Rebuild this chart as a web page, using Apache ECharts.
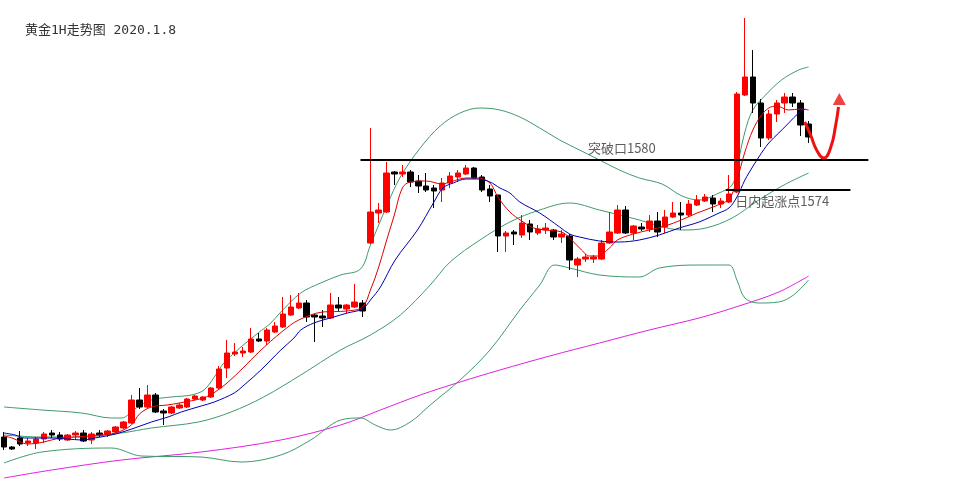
<!DOCTYPE html>
<html>
<head>
<meta charset="utf-8">
<script src="https://cdn.jsdelivr.net/npm/echarts@6/dist/echarts.min.js"></script>
<style>
html,body{margin:0;padding:0;background:#fff;}
#c{width:956px;height:480px;}
</style>
</head>
<body>
<div id="c"></div>
<script>
// Candles: [open, close, low, high]
const candles = [
[1524.6,1522.6,1522.0,1525.6],[1522.6,1522.2,1522.0,1522.8],[1524.4,1523.2,1522.8,1525.8],[1523.4,1523.8,1522.8,1524.4],
[1523.4,1524.2,1522.2,1524.6],[1524.2,1525.2,1523.4,1525.6],[1525.4,1525.0,1524.4,1526.0],[1525.0,1524.2,1523.8,1525.6],
[1524.0,1525.0,1523.8,1525.2],[1525.0,1525.4,1524.0,1525.8],[1525.4,1523.8,1523.6,1526.0],[1524.0,1525.2,1523.2,1525.6],
[1525.4,1525.0,1524.6,1526.0],[1525.2,1525.8,1524.6,1526.0],[1525.6,1526.6,1525.4,1526.8],[1526.4,1527.6,1526.2,1527.8],
[1527.4,1532.0,1527.2,1533.0],[1532.0,1530.6,1530.2,1534.4],[1530.6,1533.0,1530.4,1535.0],[1533.0,1529.6,1529.4,1533.4],
[1529.8,1529.4,1527.0,1530.2],[1529.4,1530.6,1529.2,1530.8],[1530.4,1531.0,1530.2,1531.4],[1530.6,1532.2,1530.4,1532.4],
[1532.2,1532.8,1532.0,1533.0],[1532.0,1532.6,1531.8,1532.8],[1532.6,1534.4,1532.4,1534.6],[1534.4,1538.2,1534.2,1538.8],
[1538.4,1541.4,1536.4,1544.0],[1541.2,1541.6,1540.8,1543.4],[1541.4,1541.8,1540.6,1542.6],[1541.6,1544.2,1541.4,1546.4],
[1544.2,1543.8,1543.6,1545.4],[1543.8,1546.0,1543.0,1546.4],[1545.6,1546.8,1545.4,1547.6],[1546.6,1549.2,1546.4,1552.6],
[1549.0,1550.6,1548.8,1553.0],[1550.4,1551.4,1550.2,1553.4],[1551.4,1548.6,1547.6,1552.0],[1549.0,1548.6,1543.6,1549.2],
[1548.8,1548.4,1546.6,1550.0],[1548.4,1551.0,1548.2,1553.4],[1551.0,1550.4,1549.6,1552.6],[1550.2,1551.0,1549.4,1551.2],
[1550.6,1551.6,1550.4,1555.2],[1551.4,1549.8,1548.6,1552.0],[1563.4,1569.6,1563.2,1586.4],[1569.4,1570.0,1567.4,1571.4],
[1569.6,1577.4,1569.4,1579.6],[1577.6,1577.2,1575.0,1577.8],[1577.2,1577.6,1576.6,1579.0],[1577.6,1575.6,1574.6,1578.0],
[1575.8,1574.8,1573.4,1577.0],[1574.8,1574.0,1573.6,1577.4],[1574.4,1573.8,1570.4,1575.0],[1574.0,1575.4,1571.6,1576.4],
[1575.4,1576.8,1574.4,1577.6],[1576.6,1577.4,1575.6,1578.0],[1577.2,1578.4,1577.0,1579.0],[1578.4,1576.4,1576.2,1578.6],
[1576.6,1574.0,1573.6,1577.0],[1574.2,1572.8,1571.6,1575.0],[1573.0,1564.8,1561.6,1573.0],[1564.8,1565.4,1561.6,1565.8],
[1565.6,1565.2,1563.0,1566.0],[1565.0,1567.4,1564.4,1569.0],[1567.2,1565.6,1564.0,1568.0],[1565.4,1566.2,1565.0,1567.0],
[1566.0,1566.4,1565.2,1567.4],[1566.0,1564.6,1564.0,1566.2],[1564.6,1565.2,1563.4,1566.0],[1564.8,1560.0,1558.0,1565.2],
[1559.0,1560.2,1556.6,1560.6],[1560.2,1560.6,1559.6,1561.2],[1560.2,1560.6,1559.4,1561.0],[1560.2,1563.4,1560.0,1564.0],
[1563.4,1565.6,1563.2,1569.6],[1565.4,1570.0,1565.2,1571.0],[1570.0,1565.4,1565.2,1570.8],[1565.4,1566.8,1564.0,1567.0],
[1566.6,1566.2,1565.8,1567.4],[1566.2,1567.8,1565.6,1569.0],[1567.8,1565.6,1564.6,1569.6],[1566.6,1568.6,1565.4,1570.0],
[1568.6,1569.4,1568.4,1571.6],[1569.4,1569.0,1566.0,1571.6],[1569.0,1571.2,1568.6,1572.0],[1571.0,1572.0,1570.8,1573.0],
[1571.8,1572.6,1571.6,1573.2],[1572.4,1571.2,1569.6,1573.0],[1571.2,1571.8,1570.4,1572.4],[1571.6,1573.2,1571.4,1577.0],
[1573.6,1593.2,1573.4,1593.6],[1593.0,1596.6,1592.8,1608.4],[1596.6,1591.4,1589.4,1602.0],[1591.4,1584.4,1582.6,1592.2],
[1584.4,1589.2,1584.0,1590.0],[1589.2,1591.4,1587.6,1592.0],[1591.4,1592.6,1589.4,1593.4],[1592.6,1591.4,1590.6,1593.4],
[1591.4,1587.0,1584.8,1592.0],[1587.2,1584.6,1583.4,1587.8]
];

// Lines: [bar index, price]
const maFast = [[0,1524.8],[1,1524.4],[3,1523.2],[5,1523.6],[7,1524.4],[9,1524.6],[12,1525.0],[14,1525.4],[16,1527.0],[17,1529.2],[18.5,1530.6],[20.5,1531.0],[22,1531.4],[25,1532.4],[26.5,1533.6],[28,1535.4],[30,1538.4],[32,1541.6],[35,1545.8],[37,1548.0],[40,1549.6],[43,1549.8],[45,1550.6],[46,1554.0],[47,1558.4],[48,1563.8],[49,1569.0],[50,1574.4],[51,1575.6],[53,1575.8],[55,1575.2],[56,1575.6],[58,1576.4],[59.5,1576.4],[61,1575.4],[62,1572.6],[63.5,1569.6],[65,1567.8],[66.5,1566.4],[68,1566.0],[70,1565.6],[71,1564.4],[72.5,1562.0],[73.5,1560.8],[74.5,1560.8],[76,1562.4],[77,1564.0],[79,1565.2],[81,1566.0],[83,1566.8],[85,1568.0],[87,1569.4],[89,1570.6],[91,1572.2],[92,1576.0],[93,1581.6],[94,1586.0],[95,1588.8],[96,1590.4],[97,1590.8],[98.5,1590.0],[100,1590.2],[101,1590.0]];

const maSlow = [[0,1525.4],[1.4,1525.0],[2.6,1524.4],[4,1524.4],[6,1524.4],[8,1524.2],[9.75,1524.0],[11.4,1524.4],[14,1525.2],[16.4,1526.4],[18.5,1527.6],[20.6,1528.6],[22.25,1529.6],[24.75,1530.8],[26.4,1531.6],[28.9,1533.4],[30,1534.8],[32.25,1538.0],[34.75,1542.0],[36.4,1544.4],[37.25,1546.0],[38.9,1547.4],[41.4,1548.6],[43.1,1549.4],[45,1550.2],[46,1552.0],[47.25,1554.6],[49.1,1560.0],[51.9,1566.0],[53.9,1571.4],[55.1,1574.4],[56.4,1575.4],[58,1576.2],[59.4,1576.2],[61,1575.6],[62.25,1574.4],[63.5,1573.4],[64.75,1571.6],[67.25,1569.4],[69.75,1566.6],[71,1565.2],[72.25,1564.6],[74.75,1563.8],[77.25,1563.6],[79.75,1564.0],[82.25,1565.0],[84.75,1566.4],[87.25,1567.6],[89.75,1569.4],[91,1570.4],[92,1572.6],[93,1576.0],[93.5,1577.4],[94.75,1580.6],[96,1583.4],[97.25,1585.4],[98.5,1587.4],[99.75,1589.4],[100.6,1590.2]];

const bollUpper = [[0,1530.6],[4.75,1530.0],[9.75,1529.4],[13.5,1528.4],[14.75,1528.4],[16.6,1530.4],[18.5,1532.0],[21,1532.6],[23.5,1533.0],[25.1,1534.0],[26.4,1536.6],[27.6,1539.4],[29.75,1542.6],[31.9,1545.4],[33.5,1547.4],[34.75,1549.6],[37.25,1553.4],[39.75,1555.4],[42.25,1557.0],[44.75,1558.2],[46,1563.0],[48.1,1571.0],[49.75,1576.6],[52.25,1582.4],[54.75,1586.8],[57.25,1589.4],[59.75,1590.4],[62.25,1590.0],[64.75,1588.6],[67.25,1586.4],[69.75,1584.0],[72.25,1582.0],[74.75,1580.0],[77.25,1578.0],[79.75,1576.4],[82.6,1575.2],[85.1,1572.8],[87.25,1572.0],[89.75,1573.4],[91.4,1575.0],[92,1578.4],[93,1585.6],[94,1590.0],[95.6,1593.0],[97.6,1596.0],[99.75,1598.0],[101,1598.6]];

const bollMid = [[0,1525.0],[4.75,1524.6],[9.75,1524.6],[14.75,1525.4],[18.5,1526.4],[24.4,1527.6],[28.5,1529.6],[32.6,1532.6],[37.25,1537.0],[42.25,1542.0],[46,1545.0],[49.75,1549.0],[53.5,1555.0],[56,1559.6],[59.75,1564.0],[63.5,1567.6],[67.25,1570.0],[71,1571.4],[74.75,1570.0],[79.75,1568.0],[82.25,1566.8],[85.1,1566.0],[88.1,1566.4],[91.4,1568.4],[94.75,1572.0],[97.9,1575.0],[101,1577.4]];

const bollLower = [[0,1519.4],[4.75,1521.6],[13.5,1522.4],[17.25,1520.8],[24.75,1520.6],[29.75,1519.6],[34.75,1521.0],[38.5,1524.0],[42.25,1528.0],[44.75,1528.4],[46.6,1527.0],[48.5,1526.0],[51,1527.6],[53.5,1531.0],[57.25,1536.0],[61,1542.0],[64.75,1550.0],[67.25,1555.0],[69.1,1559.0],[71,1558.4],[74.75,1557.0],[79.75,1556.6],[82.25,1558.4],[87.25,1559.0],[91,1559.0],[92,1556.0],[93,1552.4],[94.75,1551.4],[97.25,1551.6],[99.1,1553.0],[101,1556.0]];

const maLong = [[0,1516.4],[6,1518.0],[14.75,1520.0],[24.75,1521.6],[34.75,1524.0],[42.25,1527.0],[47.25,1530.0],[52.25,1533.0],[57.25,1535.6],[62.25,1538.0],[68.5,1540.8],[74.75,1543.4],[81,1546.0],[87.25,1548.4],[92.25,1550.8],[97.25,1553.6],[101,1556.8]];

const arrowPath = [[100.5,1587.6],[101.25,1585.0],[102,1582.0],[102.9,1580.4],[103.75,1582.4],[104.4,1587.0],[104.75,1590.6]];
const arrowHead = [[104.85,1592.2]];

const breakLevel = [[44.75,1580],[108.5,1580]];
const startLevel = [[90.6,1574],[106.25,1574]];
const breakLabelAt = [[73.3,1582.4]];
const startLabelAt = [[91.8,1571.8]];
const titleText = '黄金1H走势图 2020.1.8';
const breakText = '突破口1580';
const startText = '日内起涨点1574';

const nCats = 120;
const cats = [];
for (let i = 0; i < nCats; i++) cats.push(String(i));

const chart = echarts.init(document.getElementById('c'), null, {renderer: 'canvas'});

function lineSeries(data, color, width, z) {
  return {type: 'line', xAxisIndex: 1, data: data, smooth: 0.35, showSymbol: false, symbol: 'none',
    lineStyle: {color: color, width: width}, silent: true, z: z || 2};
}

const textFont = '"Noto Sans CJK SC", "Noto Sans", sans-serif';

chart.setOption({
  animation: false,
  backgroundColor: '#ffffff',
  title: {text: titleText, left: 20, top: 19,
    textStyle: {fontSize: 13, fontWeight: 'normal', color: '#333', fontFamily: '"DejaVu Sans Mono", "Noto Sans CJK SC", monospace'}},
  grid: {left: -2, right: -2, top: 0, bottom: 0},
  xAxis: [
    {type: 'category', data: cats, show: false, boundaryGap: true},
    {type: 'value', min: -0.5, max: 119.5, show: false}
  ],
  yAxis: {type: 'value', min: 1516, max: 1612, show: false, splitLine: {show: false}},
  series: [
    lineSeries(maLong, '#e020e0', 1, 1),
    lineSeries(bollUpper, '#3f9b6b', 1, 1),
    lineSeries(bollMid, '#3f9b6b', 1, 1),
    lineSeries(bollLower, '#3f9b6b', 1, 1),
    {type: 'candlestick', xAxisIndex: 0, data: candles, barWidth: 6, silent: true, z: 3,
      itemStyle: {color: '#ff0000', color0: '#000000', borderColor: '#ff0000', borderColor0: '#000000', borderWidth: 1}},
    lineSeries(maFast, '#e00000', 1, 4),
    lineSeries(maSlow, '#0000b0', 1, 4),
    {type: 'line', xAxisIndex: 1, data: breakLevel, showSymbol: false, symbol: 'none', silent: true, z: 5,
      lineStyle: {color: '#000', width: 2}},
    {type: 'line', xAxisIndex: 1, data: startLevel, showSymbol: false, symbol: 'none', silent: true, z: 5,
      lineStyle: {color: '#000', width: 2}},
    {type: 'line', xAxisIndex: 1, data: arrowPath, smooth: 0.5, showSymbol: false, symbol: 'none', silent: true, z: 6,
      lineStyle: {color: '#ee1111', width: 3}},
    {type: 'scatter', xAxisIndex: 1, data: arrowHead, symbol: 'triangle', symbolSize: [13, 12], silent: true, z: 6,
      itemStyle: {color: '#ee1111'}},
    {type: 'scatter', xAxisIndex: 1, data: breakLabelAt, symbolSize: 0, silent: true, z: 6,
      label: {show: true, position: 'right', distance: 0, formatter: breakText, fontSize: 13, color: '#333', fontFamily: textFont}},
    {type: 'scatter', xAxisIndex: 1, data: startLabelAt, symbolSize: 0, silent: true, z: 6,
      label: {show: true, position: 'right', distance: 0, formatter: startText, fontSize: 13, color: '#333', fontFamily: textFont}}
  ]
});
</script>
</body>
</html>
